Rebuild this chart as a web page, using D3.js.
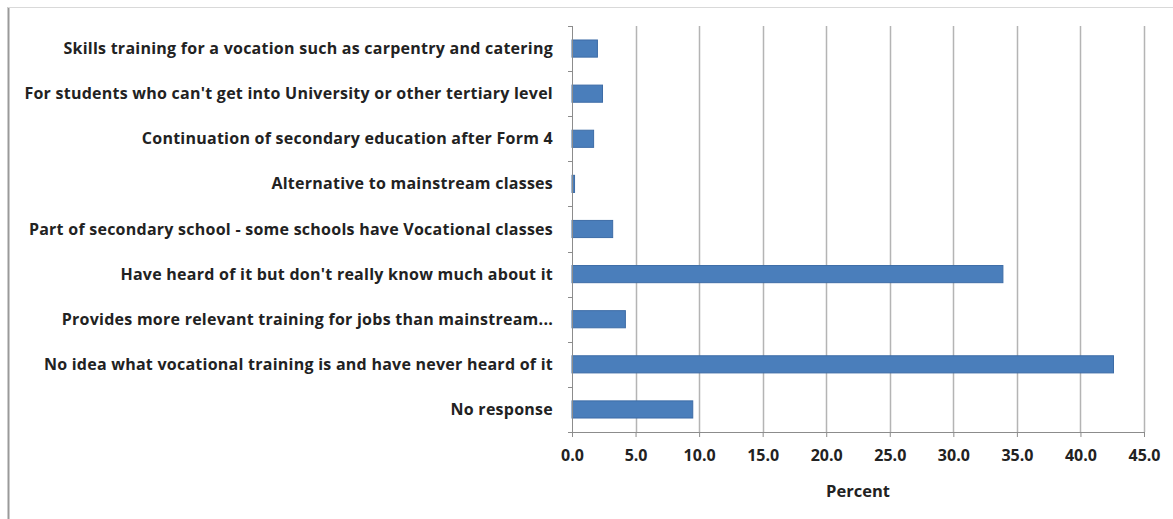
<!DOCTYPE html>
<html>
<head>
<meta charset="utf-8">
<script src="https://cdn.jsdelivr.net/npm/d3@7"></script>
<style>
  html, body { margin: 0; padding: 0; background: #fff; }
  svg { display: block; }
  text { font-family: "Open Sans", Lato, sans-serif; font-weight: 700; fill: #222; }
</style>
</head>
<body>
<svg id="chart" width="1173" height="519"></svg>
<script>
// Survey responses: what respondents understand by vocational training
const categories = [
  "Skills training for a vocation such as carpentry and catering",
  "For students who can't get into University or other tertiary level",
  "Continuation of secondary education after Form 4",
  "Alternative to mainstream classes",
  "Part of secondary school - some schools have Vocational classes",
  "Have heard of it but don't really know much about it",
  "Provides more relevant training for jobs than mainstream...",
  "No idea what vocational training is and have never heard of it",
  "No response"
];
const percents = [2.0, 2.4, 1.7, 0.2, 3.2, 33.9, 4.2, 42.6, 9.5];
const xTicks = [0, 5, 10, 15, 20, 25, 30, 35, 40, 45];
const xTitle = "Percent";

const svg = d3.select("#chart");
const W = 1173, H = 519;
const margin = { top: 26, right: 29, bottom: 87, left: 572 };
const plotW = W - margin.left - margin.right;
const plotH = H - margin.top - margin.bottom;

// chart frame (left and top edges)
svg.append("line").attr("x1", 8.5).attr("x2", 8.5).attr("y1", 7).attr("y2", H)
  .attr("stroke", "#9a9a9a").attr("stroke-width", 2);
svg.append("line").attr("x1", 8).attr("x2", W).attr("y1", 7.5).attr("y2", 7.5)
  .attr("stroke", "#d9d9d9").attr("stroke-width", 1);

const g = svg.append("g").attr("transform", `translate(${margin.left},${margin.top})`);

const x = d3.scaleLinear().domain([0, 45]).range([0, plotW]);
const y = d3.scaleBand().domain(categories).range([0, plotH]).paddingInner(0.62).paddingOuter(0.31);

// vertical gridlines
g.append("g").selectAll("line").data(xTicks.filter(d => d > 0)).join("line")
  .attr("x1", d => Math.round(x(d)) + 0.5).attr("x2", d => Math.round(x(d)) + 0.5)
  .attr("y1", 0).attr("y2", plotH)
  .attr("stroke", "#b4b4b4").attr("stroke-width", 1.5);

// bars
g.append("g").selectAll("rect").data(categories).join("rect")
  .attr("x", x(0))
  .attr("y", d => y(d))
  .attr("width", (d, i) => x(percents[i]) - x(0))
  .attr("height", y.bandwidth())
  .attr("fill", "#4a7ebb")
  .attr("stroke", "#3d6ca6")
  .attr("stroke-width", 1);

// x axis
const xAxis = g.append("g").attr("transform", `translate(0,${plotH})`)
  .call(d3.axisBottom(x).tickValues(xTicks).tickFormat(d3.format(".1f")).tickSize(5).tickPadding(13));
xAxis.select(".domain").attr("stroke", "#8c8c8c");
xAxis.selectAll(".tick line").attr("stroke", "#8c8c8c");
xAxis.selectAll("text").style("font-size", "16px").attr("fill", "#222");

// y axis line and category boundary ticks
g.append("line").attr("x1", 0.5).attr("x2", 0.5).attr("y1", 0).attr("y2", plotH)
  .attr("stroke", "#8c8c8c");
const bounds = d3.range(categories.length + 1).map(i => i * plotH / categories.length);
g.append("g").selectAll("line").data(bounds).join("line")
  .attr("x1", -4).attr("x2", 0.5)
  .attr("y1", d => Math.round(d) + 0.5).attr("y2", d => Math.round(d) + 0.5)
  .attr("stroke", "#8c8c8c");

// category labels
g.append("g").selectAll("text").data(categories).join("text")
  .attr("x", -19)
  .attr("y", d => y(d) + y.bandwidth() / 2)
  .attr("dy", "0.35em")
  .attr("text-anchor", "end")
  .style("font-size", "16px")
  .style("letter-spacing", "0.25px")
  .text(d => d);

// axis title
g.append("text")
  .attr("x", plotW / 2)
  .attr("y", plotH + 65)
  .attr("text-anchor", "middle")
  .style("font-size", "16.5px")
  .text(xTitle);
</script>
</body>
</html>
